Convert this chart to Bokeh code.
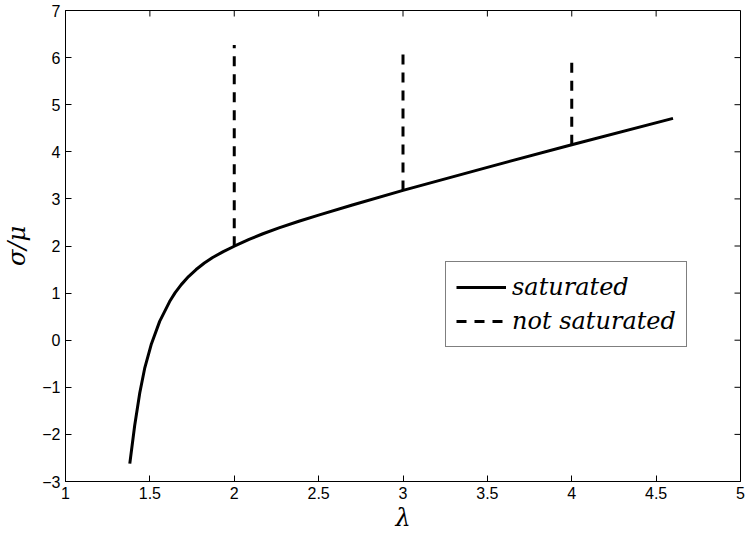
from bokeh.plotting import figure
from bokeh.models import (ColumnDataSource, Legend, LegendItem,
                          FixedTicker, Range1d)
from bokeh.embed import file_html
from bokeh.resources import INLINE

# ---- data ----
lam_sat = [1.381, 1.410, 1.440, 1.469, 1.509, 1.558, 1.617, 1.650, 1.686,
           1.729, 1.774, 1.823, 1.872, 1.935, 2.0, 2.088, 2.170, 2.265,
           2.383, 2.5, 2.7, 3.0, 3.5, 4.0, 4.6]
sigma_mu_sat = [-2.62, -1.81, -1.12, -0.60, -0.08, 0.40, 0.82, 1.01, 1.18,
                1.35, 1.50, 1.638, 1.755, 1.88, 1.995, 2.14, 2.26, 2.385,
                2.525, 2.655, 2.87, 3.18, 3.67, 4.15, 4.71]

lam_ns = [2.0, 3.0, 4.0]
ns_bottom = [1.995, 3.18, 4.15]
ns_top = [6.27, 6.08, 6.0]

x_min, x_max = 1, 5
y_min, y_max = -3, 7
x_ticks = [1, 1.5, 2, 2.5, 3, 3.5, 4, 4.5, 5]
y_ticks = [-3, -2, -1, 0, 1, 2, 3, 4, 5, 6, 7]
y_tick_labels = {t: (("\u2212" + str(-t)) if t < 0 else str(t)) for t in y_ticks}

TICK_FONT = "Liberation Sans"
MATH_FONT = "DejaVu Serif"

W, H = 745, 535
BL, BR, BT, BB = 65, 5, 10, 54
FRAME_W, FRAME_H = W - BL - BR, H - BT - BB
TICK_LEN = 6

p = figure(width=W, height=H, output_backend="svg", toolbar_location=None,
           x_range=Range1d(x_min, x_max), y_range=Range1d(y_min, y_max),
           min_border_left=BL, min_border_right=BR, min_border_top=BT,
           min_border_bottom=BB, x_axis_label="\u03bb", y_axis_label="\u03c3/\u03bc")
p.grid.visible = False
p.outline_line_color = "black"
p.outline_line_width = 1
p.background_fill_color = "white"
p.border_fill_color = "white"

sat_src = ColumnDataSource(dict(x=lam_sat, y=sigma_mu_sat))
r_sat = p.line("x", "y", source=sat_src, line_color="black", line_width=3,
               line_join="round")

ns_src = ColumnDataSource(dict(xs=[[l, l] for l in lam_ns],
                               ys=[[b, t] for b, t in zip(ns_bottom, ns_top)]))
r_ns = p.multi_line("xs", "ys", source=ns_src, line_color="black",
                    line_width=3, line_dash="10 8")

# inward ticks on the top and right edges of the box (MATLAB style)
dy = TICK_LEN * (y_max - y_min) / FRAME_H
dx = TICK_LEN * (x_max - x_min) / FRAME_W
p.segment(x0=x_ticks, y0=[y_max] * len(x_ticks), x1=x_ticks,
          y1=[y_max - dy] * len(x_ticks), line_color="black", line_width=1)
p.segment(x0=[x_max] * len(y_ticks), y0=y_ticks, x1=[x_max - dx] * len(y_ticks),
          y1=y_ticks, line_color="black", line_width=1)

p.xaxis.ticker = FixedTicker(ticks=x_ticks)
p.yaxis.ticker = FixedTicker(ticks=y_ticks)
p.yaxis.major_label_overrides = y_tick_labels

for ax in p.xaxis + p.yaxis:
    ax.axis_line_color = "black"
    ax.axis_line_width = 1
    ax.major_tick_in = TICK_LEN
    ax.major_tick_out = 0
    ax.major_tick_line_color = "black"
    ax.minor_tick_line_color = None
    ax.major_label_text_font = TICK_FONT
    ax.major_label_text_font_size = "16px"
    ax.major_label_text_color = "black"
    ax.major_label_standoff = 5
    ax.axis_label_text_font = MATH_FONT
    ax.axis_label_text_font_style = "italic"
    ax.axis_label_text_font_size = "24px"
    ax.axis_label_text_color = "black"
p.xaxis.axis_label_standoff = 2
p.yaxis.axis_label_standoff = 8

legend = Legend(items=[LegendItem(label="saturated", renderers=[r_sat]),
                       LegendItem(label="not saturated", renderers=[r_ns])],
                location=(380, 134))
legend.label_text_font = MATH_FONT
legend.label_text_font_style = "italic"
legend.label_text_font_size = "24px"
legend.label_text_color = "black"
legend.glyph_width = 50
legend.glyph_height = 30
legend.label_height = 30
legend.label_standoff = 6
legend.spacing = 4
legend.padding = 10
legend.margin = 0
legend.border_line_color = "black"
legend.border_line_width = 1
legend.background_fill_color = "white"
legend.background_fill_alpha = 1
p.add_layout(legend, "center")

open("out.html", "w").write(file_html(p, INLINE))
